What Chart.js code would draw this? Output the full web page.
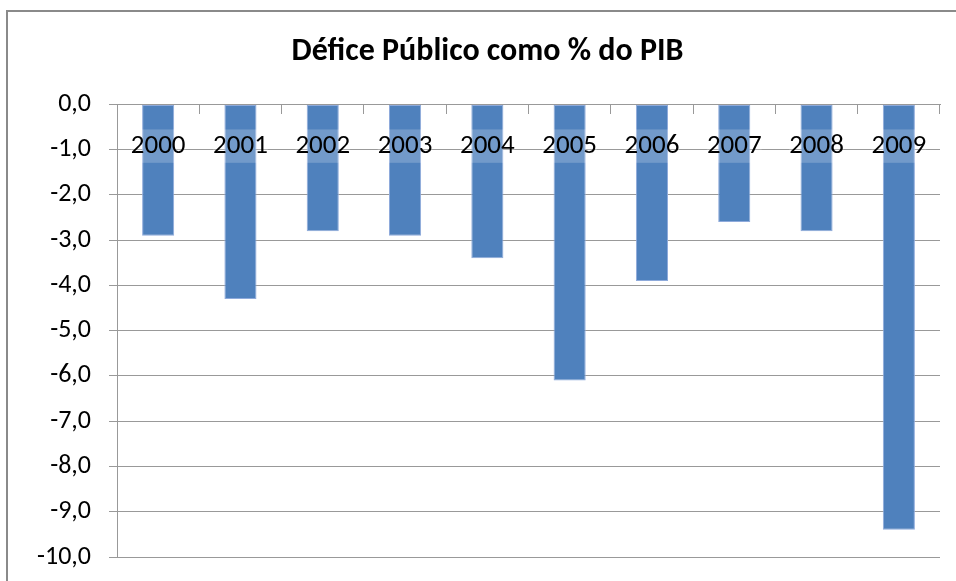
<!DOCTYPE html>
<html>
<head>
<meta charset="utf-8">
<script src="https://cdn.jsdelivr.net/npm/chart.js@4/dist/chart.umd.min.js"></script>
<style>
  html, body { margin: 0; padding: 0; background: #fff; overflow: hidden; }
  #wrap { position: relative; width: 956px; height: 581px; }
  #frame { position: absolute; left: 6px; top: 10px; width: 1000px; height: 700px;
           border: 2px solid #8a8a8a; box-sizing: border-box; }
  #deficit { position: absolute; left: 0; top: 0; }
</style>
</head>
<body>
<div id="wrap">
  <div id="frame"></div>
  <canvas id="deficit" width="956" height="581"></canvas>
</div>
<script>
const years = ['2000', '2001', '2002', '2003', '2004', '2005', '2006', '2007', '2008', '2009'];
const deficit = [-2.9, -4.3, -2.8, -2.9, -3.4, -6.1, -3.9, -2.6, -2.8, -9.4];
const yMin = -10;
const yMax = 0;
const chartTitle = 'Défice Público como % do PIB';

document.addEventListener('DOMContentLoaded', () => {
  const ctx = document.getElementById('deficit').getContext('2d');
  const font = 'Carlito, Calibri, Lato, sans-serif';
  const gridColor = '#999999';

  // the title sits centred on the whole frame, a bit right of the canvas centre
  const titleShift = {
    id: 'titleShift',
    afterLayout(chart) {
      const t = chart.titleBlock;
      if (t) { t.left += 35; t.width -= 35; }
    }
  };

  const config = {
    type: 'bar',
    data: {
      labels: years,
      datasets: [{
        label: chartTitle,
        data: deficit,
        backgroundColor: '#4f81bd',
        borderColor: '#8eaadb',
        borderWidth: 1,
        borderSkipped: false,
        barPercentage: 0.39,
        categoryPercentage: 1
      }]
    },
    options: {
      responsive: false,
      animation: false,
      layout: { padding: { top: 0, right: 16, bottom: 24, left: 0 } },
      scales: {
        x: {
          position: { y: 0 },
          grid: { drawOnChartArea: false, drawTicks: true, tickLength: 9, color: gridColor },
          border: { display: true, color: gridColor },
          ticks: {
            z: 1,
            color: '#000',
            padding: 17,
            maxRotation: 0,
            font: { family: font, size: 27 },
            showLabelBackdrop: true,
            backdropColor: 'rgba(255,255,255,0.2)',
            backdropPadding: { top: 1, bottom: 0, left: 0, right: 0 }
          }
        },
        y: {
          min: yMin,
          max: yMax,
          afterFit: (scale) => {
            scale.width = 117;
            scale.paddingBottom = 0;
          },
          grid: { color: gridColor, drawTicks: true, tickLength: 8 },
          border: { display: true, color: gridColor },
          ticks: {
            stepSize: 1,
            color: '#000',
            padding: 18,
            font: { family: font, size: 26 },
            callback: (v) => v.toFixed(1).replace('.', ',')
          }
        }
      },
      plugins: {
        legend: { display: false },
        tooltip: { enabled: false },
        title: {
          display: true,
          text: chartTitle,
          color: '#000',
          font: { family: font, size: 32, weight: 'bold' },
          padding: { top: 33, bottom: 33 }
        }
      }
    },
    plugins: [titleShift]
  };

  new Chart(ctx, config);
});
</script>
</body>
</html>
